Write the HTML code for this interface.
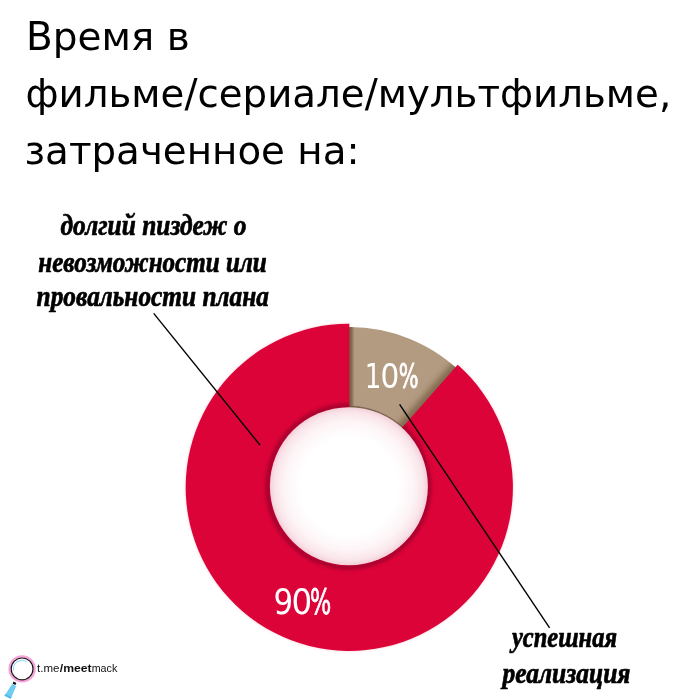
<!DOCTYPE html>
<html lang="ru">
<head>
<meta charset="utf-8">
<title>Время в фильме</title>
<style>
html,body{margin:0;padding:0;background:#fff;}
body{width:700px;height:700px;overflow:hidden;position:relative;font-family:"Liberation Sans","DejaVu Sans",sans-serif;}
svg{position:absolute;left:0;top:0;display:block;}
.title{font-family:"DejaVu Sans","Liberation Sans",sans-serif;font-size:39.8px;fill:#000;}
.script{font-family:"Liberation Serif","DejaVu Serif",serif;font-weight:bold;font-style:italic;fill:#000;font-size:29px;stroke:#000;stroke-width:0.7px;stroke-linejoin:round;}
.pct{font-family:"DejaVu Sans Condensed","DejaVu Sans","Liberation Sans",sans-serif;fill:#fff;stroke:#fff;stroke-width:0;stroke-linejoin:round;}
.tg{font-family:"Liberation Sans","DejaVu Sans",sans-serif;font-size:11.8px;fill:#111;}
</style>
</head>
<body>
<svg width="700" height="700" viewBox="0 0 700 700">
  <defs>
    <radialGradient id="hole" cx="50%" cy="50%" r="50%">
      <stop offset="0" stop-color="#fff"/>
      <stop offset="0.62" stop-color="#fff"/>
      <stop offset="0.82" stop-color="#fdf4f6"/>
      <stop offset="0.94" stop-color="#f9e4e9"/>
      <stop offset="1" stop-color="#f4cfd8"/>
    </radialGradient>
    <filter id="b2" x="-20%" y="-20%" width="140%" height="140%"><feGaussianBlur stdDeviation="1.6"/></filter>
    <filter id="b25" x="-20%" y="-20%" width="140%" height="140%"><feGaussianBlur stdDeviation="2.4"/></filter>
    <filter id="b3" x="-20%" y="-20%" width="140%" height="140%"><feGaussianBlur stdDeviation="3"/></filter>
    <clipPath id="brownclip"><path d="M340.91 327.22 A160.30 160.30 0 0 1 466.54 377.98 L404.88 435.47 A76.00 76.00 0 0 0 345.32 411.40 Z"/></clipPath>
    <clipPath id="redclip"><path d="M457.70 364.77 A163.60 163.60 0 1 1 349.30 323.70 L349.30 411.30 A76.00 76.00 0 1 0 399.66 430.38 Z"/></clipPath>
  </defs>
  <rect width="700" height="700" fill="#fff"/>

  <!-- title -->
  <text class="title" x="25.9" y="49.8" textLength="163.8" lengthAdjust="spacingAndGlyphs">Время в</text>
  <text class="title" x="25.5" y="107" textLength="645.7" lengthAdjust="spacingAndGlyphs">фильме/сериале/мультфильме,</text>
  <text class="title" x="24.5" y="164.4" textLength="335" lengthAdjust="spacingAndGlyphs">затраченное на:</text>

  <!-- donut -->
  <g>
    <!-- faint outer halo -->
    <path d="M457.70 364.77 A163.60 163.60 0 1 1 349.30 323.70 L349.30 411.30 A76.00 76.00 0 1 0 399.66 430.38 Z" fill="#e88ba0" opacity="0.45" filter="url(#b2)"/>
    <!-- brown slice -->
    <path d="M340.91 327.22 A160.30 160.30 0 0 1 466.54 377.98 L404.88 435.47 A76.00 76.00 0 0 0 345.32 411.40 Z" fill="#b39b82"/>
    <!-- shadows cast on brown by red -->
    <g clip-path="url(#brownclip)">
      <rect x="346" y="315" width="6.6" height="104" fill="#4e3418" opacity="0.6" filter="url(#b2)"/>
      <line x1="460.6" y1="361.5" x2="398.3" y2="431.9" stroke="#4e3418" stroke-width="10" opacity="0.5" filter="url(#b3)"/>
      <circle cx="348.9" cy="486.2" r="79.6" fill="none" stroke="#6e5a44" stroke-width="1.6" opacity="0.8"/>
    </g>
    <!-- red slice -->
    <path id="redslice" d="M457.70 364.77 A163.60 163.60 0 1 1 349.30 323.70 L349.30 411.30 A76.00 76.00 0 1 0 399.66 430.38 Z" fill="#dc0339"/>
    <!-- dark rim round the hole (on red only) -->
    <g clip-path="url(#redclip)">
      <circle cx="348.3" cy="486.6" r="80.6" fill="none" stroke="#98002a" stroke-width="5.5" opacity="0.7" filter="url(#b2)"/>
    </g>
    <!-- hole -->
    <circle cx="348.9" cy="486.2" r="79" fill="url(#hole)"/>
  </g>

  <!-- percentages -->
  <text class="pct" y="388.3" font-size="34.6"><tspan x="364.8" textLength="16.6" lengthAdjust="spacingAndGlyphs">1</tspan><tspan x="380.5" textLength="18.8" lengthAdjust="spacingAndGlyphs">0</tspan><tspan x="398.8" textLength="19.8" lengthAdjust="spacingAndGlyphs" stroke="#fff" stroke-width="0.8" stroke-linejoin="round">%</tspan></text>
  <text class="pct" y="613.6" font-size="36.2"><tspan x="273.4" textLength="19.7" lengthAdjust="spacingAndGlyphs">9</tspan><tspan x="291.6" textLength="20.7" lengthAdjust="spacingAndGlyphs">0</tspan><tspan x="310" textLength="21.2" lengthAdjust="spacingAndGlyphs" stroke="#fff" stroke-width="0.8" stroke-linejoin="round">%</tspan></text>

  <!-- pointer lines -->
  <line x1="153.7" y1="313.4" x2="260" y2="445" stroke="#000" stroke-width="1.4"/>
  <line x1="399.6" y1="404.3" x2="549.6" y2="627.8" stroke="#000" stroke-width="1.4"/>

  <!-- labels -->
  <text class="script" x="60.5" y="234.7" textLength="186" lengthAdjust="spacingAndGlyphs">долгий пиздеж о</text>
  <text class="script" x="38.3" y="272" textLength="228.5" lengthAdjust="spacingAndGlyphs">невозможности или</text>
  <text class="script" x="36.6" y="305.6" textLength="232.3" lengthAdjust="spacingAndGlyphs">провальности плана</text>
  <text class="script" x="512" y="646.5" textLength="105" lengthAdjust="spacingAndGlyphs">успешная</text>
  <text class="script" x="502.5" y="682.5" textLength="128" lengthAdjust="spacingAndGlyphs">реализация</text>

  <!-- telegram mark -->
  <g>
    <polygon points="12.1,684.1 16.2,685.9 10.8,698.7 4.5,695.8" fill="#6fcdf3"/>
    <polygon points="5.3,694.1 11.5,697 10.8,698.7 4.5,695.8" fill="#52b9e6"/>
    <polygon points="13.6,681.6 16.4,682.9 15.4,685 12.6,683.7" fill="#111"/>
    <circle cx="22.1" cy="668.9" r="12.5" fill="none" stroke="#f9a3dc" stroke-width="2.4"/>
    <circle cx="22.1" cy="668.9" r="10.9" fill="#fff" stroke="#161616" stroke-width="1.2"/>
    <path d="M13.5 670 A8.7 8.7 0 0 1 26.2 661.2" fill="none" stroke="#7fd6f7" stroke-width="1" stroke-linecap="round"/>
    <text class="tg" y="671.9"><tspan x="37.1" textLength="22.4" lengthAdjust="spacingAndGlyphs">t.me</tspan><tspan x="59.8" font-weight="bold" textLength="31.9" lengthAdjust="spacingAndGlyphs">/meet</tspan><tspan x="91.7" textLength="25.6" lengthAdjust="spacingAndGlyphs">mack</tspan></text>
  </g>
</svg>
</body>
</html>
